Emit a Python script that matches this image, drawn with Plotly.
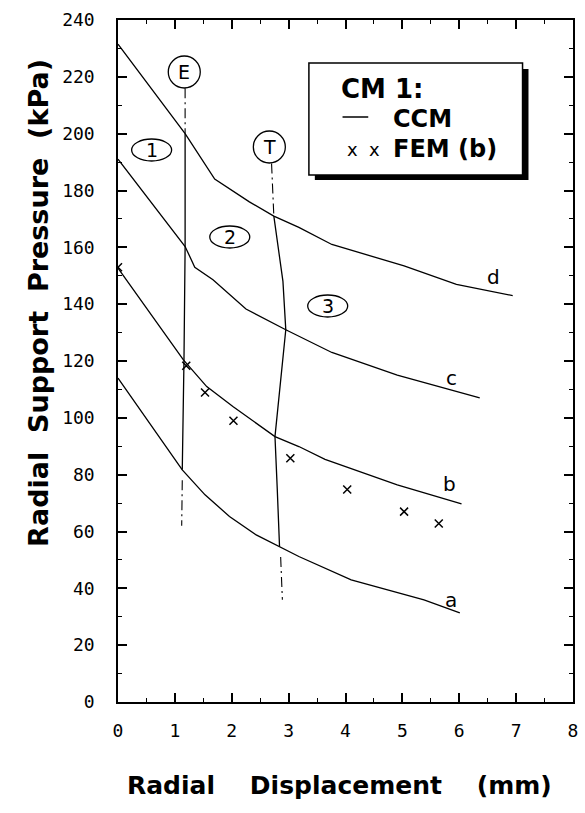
import plotly.graph_objects as go

# ---------------- data ----------------
curve_names = ["a", "b", "c", "d"]
a_x = [0, 1.13, 1.53, 1.96, 2.43, 2.84, 3.18, 4.10, 5.38, 6.01]
a_y = [114, 81.7, 72.9, 65.3, 58.8, 54.7, 51.2, 43.0, 35.9, 31.4]
b_x = [0, 1.15, 1.56, 2.02, 2.76, 3.18, 3.64, 4.91, 6.04]
b_y = [152.7, 120.4, 111.0, 104.0, 93.4, 89.9, 85.4, 76.4, 69.7]
c_x = [0, 1.18, 1.35, 1.67, 2.25, 2.95, 3.76, 4.91, 6.36]
c_y = [191, 160.3, 153.0, 148.6, 138.3, 131.0, 123.0, 115.0, 107.0]
d_x = [0, 1.18, 1.70, 2.31, 2.74, 3.18, 3.76, 5.03, 5.95, 6.94]
d_y = [231.5, 200, 184.0, 176.0, 171.0, 167.0, 161.0, 153.5, 147.0, 143.0]

fem_x = [0, 1.2, 1.53, 2.03, 3.03, 4.03, 5.03, 5.64]
fem_y = [153, 118.3, 108.9, 99, 85.8, 74.8, 67, 62.8]

# boundary E (elastic) and T lines
e_solid_x = [1.18, 1.18, 1.16, 1.13]
e_solid_y = [200, 160, 120, 81.7]
e_top_x = [1.18, 1.18]
e_top_y = [216, 200]
e_bot_x = [1.13, 1.12]
e_bot_y = [78, 62]

t_solid_x = [2.74, 2.90, 2.95, 2.86, 2.76, 2.80, 2.84]
t_solid_y = [171, 148, 131, 112, 93.4, 75, 54.7]
t_top_x = [2.70, 2.74]
t_top_y = [189.5, 171]
t_bot_x = [2.86, 2.89]
t_bot_y = [51, 36]

x_ticks = list(range(0, 9))
y_ticks = list(range(0, 241, 20))

# ---------------- figure ----------------
W, H = 585, 813
L, R, T, B = 118, 7, 20, 111
XMAX, YMAX = 8, 240
PW, PH = W - L - R, H - T - B


def px2x(px):
    return (px - L) / PW * XMAX


def px2y(py):
    return (H - B - py) / PH * YMAX


fig = go.Figure()
line_style = dict(color="black", width=1.3)

for xs, ys in [(a_x, a_y), (b_x, b_y), (c_x, c_y), (d_x, d_y)]:
    fig.add_trace(go.Scatter(x=xs, y=ys, mode="lines", line=line_style,
                             showlegend=False, hoverinfo="skip"))

fig.add_trace(go.Scatter(x=fem_x, y=fem_y, mode="markers",
                         marker=dict(symbol="x-thin", size=8,
                                     line=dict(color="black", width=1.5)),
                         showlegend=False, hoverinfo="skip"))

for xs, ys in [(e_solid_x, e_solid_y), (t_solid_x, t_solid_y)]:
    fig.add_trace(go.Scatter(x=xs, y=ys, mode="lines", line=line_style,
                             showlegend=False, hoverinfo="skip"))
for xs, ys in [(e_top_x, e_top_y), (e_bot_x, e_bot_y),
               (t_top_x, t_top_y), (t_bot_x, t_bot_y)]:
    fig.add_trace(go.Scatter(x=xs, y=ys, mode="lines",
                             line=dict(color="black", width=1.1,
                                       dash="10px,4px,2px,4px"),
                             showlegend=False, hoverinfo="skip"))

shapes = []
annotations = []
label_font = dict(family="DejaVu Sans", size=19, color="black")

# circles E / T
for txt, cx, cy in [("E", 185, 72), ("T", 271, 147)]:
    shapes.append(dict(type="circle", xref="x", yref="y",
                       xsizemode="pixel", ysizemode="pixel",
                       xanchor=px2x(cx), yanchor=px2y(cy),
                       x0=-16, x1=16, y0=-16, y1=16,
                       line=dict(color="black", width=1.3),
                       fillcolor="white"))
    annotations.append(dict(x=px2x(cx), y=px2y(cy), text=txt, showarrow=False,
                            font=label_font, xanchor="center", yanchor="middle"))

# ellipses 1 / 2 / 3
for txt, cx, cy in [("1", 152, 150), ("2", 231, 237), ("3", 330, 306)]:
    shapes.append(dict(type="circle", xref="x", yref="y",
                       xsizemode="pixel", ysizemode="pixel",
                       xanchor=px2x(cx), yanchor=px2y(cy),
                       x0=-20, x1=20, y0=-11, y1=11,
                       line=dict(color="black", width=1.3),
                       fillcolor="white"))
    annotations.append(dict(x=px2x(cx), y=px2y(cy), text=txt, showarrow=False,
                            font=label_font, xanchor="center", yanchor="middle"))

# curve labels
for txt, cx, cy in [("d", 498, 277), ("c", 455, 378), ("b", 453, 484), ("a", 455, 600)]:
    annotations.append(dict(x=px2x(cx), y=px2y(cy), text=txt, showarrow=False,
                            font=dict(family="DejaVu Sans", size=20, color="black"),
                            xanchor="center", yanchor="middle"))

# legend box with shadow
shapes.append(dict(type="rect", xref="x", yref="y",
                   x0=px2x(317), x1=px2x(533), y0=px2y(69), y1=px2y(180),
                   fillcolor="black", line=dict(width=0)))
shapes.append(dict(type="rect", xref="x", yref="y",
                   x0=px2x(311), x1=px2x(527), y0=px2y(63), y1=px2y(175),
                   fillcolor="white", line=dict(color="black", width=1.5)))
shapes.append(dict(type="line", xref="x", yref="y",
                   x0=px2x(345), x1=px2x(371), y0=px2y(117), y1=px2y(117),
                   line=dict(color="black", width=1.5)))
bold = dict(family="DejaVu Sans", size=24, color="black", weight="bold")
annotations.append(dict(x=px2x(341), y=px2y(89), text="CM\u00a01:", showarrow=False,
                        font=dict(family="DejaVu Sans", size=26, color="black", weight="bold"),
                        xanchor="left", yanchor="middle"))
annotations.append(dict(x=px2x(394), y=px2y(119), text="CCM", showarrow=False,
                        font=bold, xanchor="left", yanchor="middle"))
annotations.append(dict(x=px2x(347), y=px2y(149), text="x\u00a0\u00a0x", showarrow=False,
                        font=dict(family="DejaVu Sans", size=18, color="black"),
                        xanchor="left", yanchor="middle"))
annotations.append(dict(x=px2x(394), y=px2y(149), text="FEM\u00a0(b)", showarrow=False,
                        font=bold, xanchor="left", yanchor="middle"))

# axis titles (placed as annotations to match the original positions)
gap2 = "\u00a0\u00a0"
gap4 = "\u00a0\u00a0\u00a0\u00a0"
annotations.append(dict(xref="paper", yref="paper",
                        x=(342 - L) / PW, y=(H - B - 786) / PH,
                        text="Radial" + gap4 + "Displacement" + gap4 + "(mm)",
                        showarrow=False, xanchor="center", yanchor="middle",
                        font=dict(family="DejaVu Sans", size=25, color="black", weight="bold")))
annotations.append(dict(xref="paper", yref="paper",
                        x=(37 - L) / PW, y=(H - B - 303) / PH,
                        text="Radial" + gap2 + "Support" + gap2 + "Pressure" + gap2 + "(kPa)",
                        textangle=-90,
                        showarrow=False, xanchor="center", yanchor="middle",
                        font=dict(family="DejaVu Sans", size=27, color="black", weight="bold")))

tick_font = dict(family="DejaVu Sans Mono", size=18, color="black")

axis_common = dict(showline=True, linecolor="black", linewidth=1.5,
                   mirror="allticks", ticks="inside", ticklen=9, tickwidth=1.5,
                   tickcolor="black", showgrid=False, zeroline=False,
                   tickfont=tick_font)

fig.update_layout(
    width=W, height=H,
    margin=dict(l=L, r=R, t=T, b=B, pad=0),
    paper_bgcolor="white", plot_bgcolor="white",
    shapes=shapes, annotations=annotations,
    xaxis=dict(range=[0, XMAX], tickvals=x_ticks, ticktext=[str(v) for v in x_ticks],
               minor=dict(ticks="inside", ticklen=4, dtick=0.5, tickwidth=1.2,
                          tickcolor="black", showgrid=False),
               ticklabelstandoff=12,
               **axis_common),
    yaxis=dict(range=[0, YMAX], tickvals=y_ticks, ticktext=[str(v) for v in y_ticks],
               minor=dict(ticks="inside", ticklen=4, dtick=10, tickwidth=1.2,
                          tickcolor="black", showgrid=False),
               ticklabelstandoff=18,
               **axis_common),
)

fig.write_html("out.html")
